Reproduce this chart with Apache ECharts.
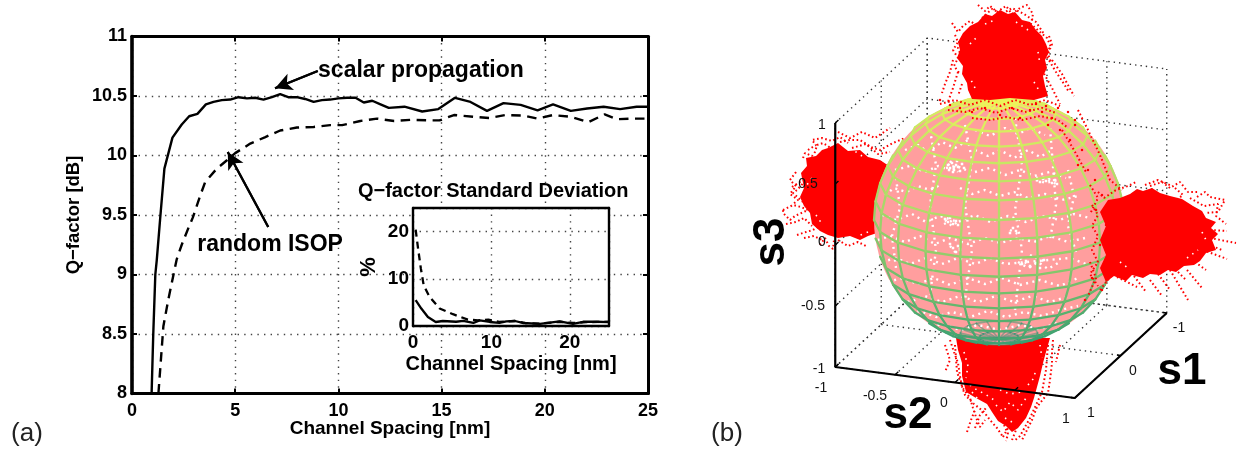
<!DOCTYPE html>
<html><head><meta charset="utf-8">
<style>html,body{margin:0;padding:0;background:#fff}#c{width:1239px;height:450px}</style>
<script src="https://cdn.jsdelivr.net/npm/echarts@6/dist/echarts.min.js"></script>
</head><body><div id="c"></div>
<script>
// ---------- panel (a) ----------
const scalarMain=[[0.95,8],[1.03,8.5],[1.13,9],[1.2,9.12],[1.36,9.46],[1.57,9.89],[1.96,10.15],[2.41,10.26],[2.77,10.33],[3.17,10.35],[3.58,10.43],[3.95,10.45],[4.35,10.465],[4.76,10.47],[5.16,10.49],[5.57,10.48],[5.97,10.485],[6.37,10.47],[6.78,10.49],[7.18,10.515],[7.57,10.49],[7.98,10.49],[8.39,10.475],[8.8,10.45],[9.2,10.465],[9.6,10.47],[10,10.48],[10.42,10.485],[10.83,10.485],[11.23,10.445],[11.64,10.46],[12.04,10.43],[12.44,10.4],[13.2,10.41],[14.06,10.37],[14.84,10.39],[15.65,10.485],[16.4,10.45],[17.2,10.375],[18,10.44],[18.83,10.425],[19.65,10.38],[20.4,10.43],[21.26,10.375],[22.05,10.395],[22.85,10.41],[23.65,10.39],[24.45,10.41],[25,10.41]];
const randomMain=[[1.28,8],[1.52,8.565],[1.76,8.79],[2,8.99],[2.17,9.13],[2.41,9.25],[2.73,9.39],[2.95,9.48],[3.3,9.66],[3.54,9.775],[4.11,9.89],[4.6,9.96],[5,10.02],[5.73,10.1],[6.46,10.155],[7.18,10.21],[7.99,10.235],[8.8,10.24],[9.6,10.255],[10.18,10.255],[11.06,10.29],[11.87,10.31],[12.7,10.29],[13.5,10.3],[14.4,10.295],[14.9,10.295],[15.6,10.34],[16.6,10.325],[17.3,10.315],[18.1,10.34],[19,10.335],[19.65,10.31],[20.4,10.34],[21.26,10.325],[22.1,10.28],[22.9,10.345],[23.5,10.305],[24.3,10.31],[25,10.31]];
const scalarStd=[[0.34,5.5],[1.06,3.7],[1.9,1.9],[2.9,0.85],[3.8,1.06],[5.5,0.9],[6.4,1.1],[7.7,0.64],[8.5,1.2],[9.8,0.85],[11,0.64],[11.9,1],[13,1.06],[14,0.64],[16.2,0.43],[18.7,1],[20.4,0.43],[21.7,0.9],[23.4,0.9],[24.9,0.8]];
const randomStd=[[0.34,20.4],[0.64,16.5],[1,12.2],[1.36,8.65],[2.1,6.2],[3.4,3.7],[5.1,2.5],[7,1.35],[8.3,1.2],[9.6,1.35],[11,0.85],[13,1.06],[14.3,0.64],[16.2,0.5],[18.7,0.9],[20.4,0.64],[22.1,0.8],[24.9,0.9]];
const arrowScalar=[[9.0,10.71],[6.93,10.565]];
const arrowRandom=[[6.6,9.4],[4.64,10.03]];
const notesMain=[[14,10.71,'scalar propagation'],[6.69,9.25,'random ISOP']];
const insetTitle=[[17.5,9.7,'Q\u2212factor Standard Deviation']];
const insetCover=[13.62,9.56,23.1,8.56];

// ---------- panel (b), read in picture units ----------
const coreLeft=[[822,150],[828,148],[838,143],[848,151],[860,150],[868,157],[880,160],[895,170],[895,225],[880,232],[868,236],[860,240],[850,236],[838,238],[828,235],[820,231],[812,224],[810,213],[804,206],[800,197],[804,188],[801,173],[807,166],[806,158],[816,156]];
const coreRight=[[1108,200],[1120,198],[1130,194],[1137,189],[1143,191],[1152,188],[1160,193],[1170,196],[1182,199],[1193,206],[1202,211],[1206,218],[1216,222],[1211,228],[1218,234],[1212,240],[1216,250],[1206,253],[1200,261],[1194,265],[1184,266],[1176,272],[1168,270],[1160,275],[1150,274],[1143,278],[1132,275],[1126,281],[1114,276],[1106,282],[1100,268],[1106,255],[1100,240],[1106,226],[1100,212]];
const coreTop=[[963,33],[970,26],[978,22],[985,14],[992,16],[1000,10],[1008,14],[1015,12],[1022,20],[1030,22],[1036,30],[1042,36],[1046,44],[1049,52],[1045,60],[1047,68],[1043,76],[1045,86],[1048,96],[1034,100],[1010,98],[990,100],[972,99],[968,90],[967,83],[962,74],[963,66],[957,58],[960,50],[958,42]];
const coreBottom=[[956,338],[1050,338],[1046,352],[1043,363],[1040,376],[1037,387],[1034,398],[1031,407],[1026,418],[1018,428],[1012,432],[1006,426],[998,421],[992,412],[987,404],[976,398],[966,392],[962,376],[962,363],[958,350]];
const strandsBehind=[
 [[803,158],[805,153],[812,156],[815,152],[817,145],[823,143],[828,146],[835,153]],
 [[808,150],[816,145],[812,140],[822,138],[832,141],[840,137],[848,143]],
 [[792,187],[800,182],[806,180],[797,190],[793,193],[803,202]],
 [[796,172],[790,180],[796,186],[790,194],[798,200],[792,205]],
 [[783,210],[793,205],[801,207],[808,210],[795,216],[790,220],[783,213],[783,210]],
 [[786,224],[796,222],[804,218],[812,226]],
 [[797,235],[806,232],[813,230],[820,226]],[[804,238],[814,236],[822,240]],
 [[820,245],[825,238],[829,246],[833,249],[834,240]],[[838,240],[848,246],[858,242],[866,246]],
 [[840,142],[850,140],[860,140],[871,147],[880,150],[893,143],[905,138]],
 [[838,132],[850,138],[862,132],[875,138],[890,128]],[[852,148],[866,144],[878,154],[890,152]],
 [[950,340],[954,352],[958,363],[960,376],[962,387],[970,398],[973,408],[977,420],[980,427],[985,420]],
 [[955,345],[957,372],[965,395],[974,404],[984,412],[990,420],[997,428],[1003,437]],
 [[967,432],[971,420],[975,410]],[[975,428],[980,415],[986,408]],
 [[1053,340],[1052,352],[1052,363],[1050,380],[1048,393],[1037,407],[1032,420],[1026,432],[1022,440]],
 [[1048,345],[1046,370],[1042,392],[1036,405],[1030,418],[1020,436],[1014,441]],
 [[1003,437],[1008,428]],[[1012,440],[1016,430]],
 [[945,345],[950,360],[945,372]],[[1060,345],[1056,362]],[[1004,425],[1008,434],[1006,441]]
];
const whiteOnClouds=[
 [[970,385],[977,390],[985,394],[994,400]],[[972,392],[982,404],[990,410]],[[996,405],[1003,412],[1010,402],[1018,410],[1026,398]],
 [[1028,385],[1034,378],[1036,368]],[[964,352],[968,366],[966,378]],[[1040,345],[1042,358]],[[1000,390],[1010,394],[1022,392]],
 [[1005,418],[1012,422]],[[1142,282],[1148,276]],[[1187,258],[1198,250]],[[1202,232],[1206,240]],[[1120,262],[1128,268]],
 [[812,178],[806,186]],[[816,215],[822,224]],[[850,148],[862,156]],[[868,232],[858,236]],
 [[970,44],[976,38]],[[1038,52],[1040,64]],[[1034,82],[1040,92]],[[975,88],[971,80]],[[985,24],[995,20]],[[1016,22],[1028,30]]
];
const strandsFront=[
 [[978,5],[985,11],[990,6],[997,12],[1006,6],[1012,14],[1020,8],[1027,5],[1033,14],[1031,24],[1040,32],[1047,38],[1051,47],[1045,52]],
 [[952,23],[958,32],[963,26],[970,21],[976,25],[970,32],[962,40],[958,48],[962,58]],
 [[982,18],[992,9],[1002,14],[1012,8],[1024,14],[1036,22],[1044,34]],
 [[955,35],[958,42],[953,50],[958,58],[954,66],[960,74]],
 [[1049,36],[1052,44],[1048,54],[1051,62]],
 [[953,60],[950,72],[945,84],[942,93]],[[958,72],[953,88],[948,102]],[[962,84],[958,96]],
 [[1047,57],[1056,72],[1064,84],[1069,92]],[[1042,70],[1052,88],[1060,104]],[[1036,84],[1042,98]],[[1052,60],[1062,74],[1074,96]],
 [[940,104],[955,100],[970,105],[985,100],[1000,106],[1015,100],[1030,105],[1045,100],[1060,106]],
 [[948,110],[965,112],[980,108],[996,113],[1010,108],[1025,112],[1042,108],[1056,113]],
 [[972,118],[990,120],[1006,117],[1022,120],[1040,116],[1058,120],[1068,128]],
 [[1175,188],[1183,195],[1176,200]],[[1197,197],[1205,192],[1210,197],[1225,200],[1218,212],[1205,213]],
 [[1150,186],[1162,182],[1170,188],[1180,182],[1188,192],[1198,192]],
 [[1190,198],[1204,206],[1218,204],[1216,216],[1226,224]],
 [[1210,230],[1227,231]],[[1210,238],[1236,243]],[[1203,250],[1227,259]],[[1212,246],[1222,250]],
 [[1187,270],[1202,288]],[[1150,280],[1162,296]],[[1170,270],[1188,300]],[[1117,277],[1137,287]],
 [[1195,262],[1206,270]],[[1178,272],[1186,280]],[[1134,276],[1146,292]],[[1158,274],[1170,290]],
 [[1100,290],[1112,275]],[[1145,185],[1158,180],[1172,186]],
 [[1092,205],[1098,215],[1092,226],[1098,236],[1092,250],[1098,262],[1090,274],[1098,286]],
 [[1098,192],[1104,198],[1116,190],[1128,186],[1136,182]],
 [[1090,185],[1098,198],[1090,214]],[[1090,262],[1096,278],[1088,296]],[[1078,110],[1088,130],[1100,155],[1110,180],[1122,190]],
 [[1062,130],[1074,150],[1086,172]]
];
const whiteStrands=[
 [[885,195],[894,188],[906,192],[918,186],[930,190],[942,184]],
 [[905,150],[918,145],[928,152],[942,142],[955,148],[968,140]],
 [[895,170],[910,166],[925,172],[938,166],[950,170]],
 [[948,164],[955,170],[962,163]],[[946,168],[956,166],[966,170]],[[950,161],[958,172]],
 [[975,130],[990,136],[1005,128],[1018,134],[1030,128],[1045,135]],
 [[975,150],[988,156],[1000,150],[1014,158],[1028,150],[1040,157],[1052,150]],
 [[975,172],[990,168],[1005,175],[1020,170],[1034,176],[1050,172],[1066,178]],
 [[1036,180],[1046,183],[1058,180]],[[1036,178],[1046,178],[1056,184]],
 [[960,188],[972,194],[985,190],[1000,196],[1014,192],[1028,198],[1045,194],[1062,200],[1078,196]],
 [[882,215],[896,220],[912,214],[926,222],[940,216],[958,222],[975,215],[990,222],[1008,216],[1026,222],[1042,216],[1060,220],[1074,214],[1090,218]],
 [[945,220],[952,226],[960,220]],[[944,224],[954,220]],[[1010,230],[1018,234]],
 [[878,240],[890,236],[905,242],[920,236],[935,244],[950,238],[968,244],[985,238],[1000,243],[1018,238],[1034,242],[1050,236],[1068,242],[1085,238]],
 [[950,246],[955,252],[961,248]],[[1018,262],[1028,268],[1038,262],[1048,269],[1058,263]],[[1020,258],[1034,270]],[[1030,255],[1046,262]],
 [[882,262],[896,258],[910,264],[926,258],[942,264],[958,258],[975,264],[990,258],[1005,264],[1070,258],[1086,264]],
 [[888,282],[902,278],[918,284],[934,278],[950,285],[968,278],[985,284],[1002,278],[1020,285],[1040,280],[1060,286],[1078,278]],
 [[895,298],[910,302],[925,296],[942,302],[960,296],[978,302],[996,296],[1014,302],[1032,296],[1050,302],[1070,296]],
 [[905,315],[920,311],[936,317],[952,312],[970,317],[988,311],[1006,317],[1024,312],[1042,316],[1060,310],[1078,306]],
 [[925,328],[942,324],[960,330],[978,325],[1000,330],[1020,325],[1040,329],[1060,322]],
 [[896,178],[900,208],[892,236],[896,268]],[[1068,170],[1074,196],[1068,226],[1076,252]],
 [[930,130],[936,165],[930,205],[936,250],[930,295]],[[1050,128],[1056,205],[1050,240]],
 [[965,125],[972,160],[965,205],[972,250],[965,300]],[[1015,118],[1022,165],[1015,210],[1022,250],[1015,310]]
];
const speckWhite=[[948,165],[950,168],[952,163],[954,170],[956,165],[958,167],[960,171],[962,164],[964,168],[953,172],[949,170],[957,161],[1037,180],[1040,182],[1043,179],[1046,181],[1049,178],[1052,183],[1055,180],[1057,184],[945,219],[948,222],[950,218],[953,224],[956,221],[958,225],[1013,228],[1016,231],[1010,233],[950,244],[953,248],[956,252],[958,246],[960,250],[1022,264],[1026,261],[1030,266],[1036,263],[1040,268],[1044,260]];
const speckRed=[[1070,140],[1075,125],[1060,130],[1068,112],[1052,118],[1058,108],[1048,125],[1042,112],[1030,110],[1020,118],[1012,108],[1000,115],[985,108],[972,112],[960,108],[1082,150],[1088,170],[1078,165],[1095,180],[1102,195],[1096,210],[1106,225],[1100,245],[1108,262],[1092,278],[1102,290],[1085,300],[1075,120],[940,100],[950,105],[1036,104],[1046,106]];
const axisTicks=[-1,-0.5,0,0.5,1];
const axisTicksS1=[-1,0,1];
const labelsS3=[[822,125,'1'],[808,184,'0.5'],[822,242,'0'],[813,306,'-0.5'],[819,369,'-1']];
const labelsS2=[[821,388,'-1'],[875,396,'-0.5'],[944,403,'0'],[1066,419,'1']];
const labelsS1=[[1091,413,'1'],[1133,371,'0'],[1179,328,'-1']];
const axisTitles=[[1182,372,'s1'],[908,416,'s2']];
const axisTitleS3=[[772,242,'s3']];
const panelTags=[[27,434,'(a)'],[727,434,'(b)']];

// ---------- projections of the 3-D box and sphere into picture units ----------
const P=(s1,s2,s3)=>[1001-46*s1+119.75*s2,218+42.5*s1+15.5*s2-122*s3];
const sphereC=[999,220],sphereR=125,el=18*Math.PI/180;
const rad=d=>d*Math.PI/180;
function sph(lat,lon){const a=rad(lat),o=rad(lon);return {
 p:[sphereC[0]+sphereR*Math.cos(a)*Math.sin(o),sphereC[1]-sphereR*(Math.sin(a)*Math.cos(el)-Math.cos(a)*Math.cos(o)*Math.sin(el))],
 z:Math.sin(a)*Math.sin(el)+Math.cos(a)*Math.cos(o)*Math.cos(el)};}
function meshColor(lat){
 const t=(lat+90)/180;
 const stops=[[0,[34,142,118]],[0.3,[86,176,110]],[0.6,[176,220,104]],[1,[240,246,90]]];
 for(let i=1;i<stops.length;i++){if(t<=stops[i][0]){const a=stops[i-1],b=stops[i],f=(t-a[0])/(b[0]-a[0]);
  return 'rgb('+a[1].map((v,k)=>Math.round(v+(b[1][k]-v)*f)).join(',')+')';}}
 return 'rgb(240,246,90)';
}
const meshFront=[],meshBack=[];
function addSeg(la1,lo1,la2,lo2){
 const A=sph(la1,lo1),B=sph(la2,lo2),m=(la1+la2)/2,seg={a:A.p,b:B.p,c:meshColor(m)};
 if((A.z+B.z)/2>=0)meshFront.push(seg);else if(m<=-72||m>=63)meshBack.push(seg);
}
for(let la=-90;la<=90;la+=9)for(let lo=-180;lo<180;lo+=18){
 if(Math.abs(la)<90)addSeg(la,lo,la,lo+18);
 if(la<90)addSeg(la,lo,la+9,lo);
}
const sphereOutline=[];for(let t=0;t<360;t+=4)sphereOutline.push([sphereC[0]+sphereR*Math.cos(rad(t)),sphereC[1]+sphereR*Math.sin(rad(t))]);

const wallLines=[];
axisTicks.forEach(v=>{ wallLines.push([P(1,-1,v),P(-1,-1,v),P(-1,1,v)]); wallLines.push([P(-1,v,-1),P(-1,v,1)]); wallLines.push([P(-1,v,-1),P(1,v,-1)]);});
axisTicksS1.forEach(v=>{ wallLines.push([P(v,-1,-1),P(v,-1,1)]); wallLines.push([P(v,-1,-1),P(v,1,-1)]);});
const boxAxes=[[P(1,-1,1),P(1,-1,-1),P(1,1,-1),P(-1,1,-1)]];
const tickMarks=[];
axisTicks.forEach(v=>{const a=P(1,-1,v),b=P(0.93,-1,v);tickMarks.push([a,b]);const c=P(1,v,-1),d=P(0.93,v,-1);tickMarks.push([c,d]);});
axisTicksS1.forEach(v=>{const a=P(v,1,-1),b=P(v,0.97,-1);tickMarks.push([a,b]);});

// ---------- option helpers ----------
const FONT='"Liberation Sans",Arial,sans-serif', BOLD={fontFamily:FONT,fontWeight:'bold',color:'#000'};
const dotted={show:true,lineStyle:{color:'#444',width:1.4,type:[1.4,5.2]}};
const PANEL={xAxisIndex:4,yAxisIndex:4};
function valueAxis(o){return Object.assign({type:'value',splitLine:{show:false},axisLine:{show:true,onZero:false,lineStyle:{color:'#000',width:3}},axisTick:{show:true,inside:true,length:5,lineStyle:{color:'#000',width:2}},axisLabel:{show:false}},o);}
function polyline(lines,z,style){return lines.map(l=>({type:'line',...PANEL,data:l,symbol:'none',silent:true,z,clip:false,animation:false,lineStyle:style}));}
function polygons(list,z,fill){return {type:'custom',...PANEL,z,clip:false,silent:true,animation:false,data:list.map((_,i)=>[i,0]),
 renderItem:(p,api)=>({type:'polygon',shape:{points:list[p.dataIndex].map(q=>api.coord(q))},style:{fill}})};}
function segments(list,z,width,opacity){return {type:'custom',...PANEL,z,clip:false,silent:true,animation:false,data:list.map((_,i)=>[i,0]),
 renderItem:(p,api)=>{const s=list[p.dataIndex],a=api.coord(s.a),b=api.coord(s.b);
  return {type:'line',shape:{x1:a[0],y1:a[1],x2:b[0],y2:b[1]},style:{stroke:s.c,lineWidth:width,opacity,lineCap:'round'}};}};}
function texts(list,z,label,axes){return {type:'scatter',...(axes||PANEL),z,silent:true,animation:false,symbolSize:0,clip:false,itemStyle:{opacity:1},
 data:list.map(t=>({value:[t[0],t[1]],name:t[2]})),label:Object.assign({show:true,position:'inside',formatter:'{b}',align:'center',verticalAlign:'middle',opacity:1},label)};}
function specks(list,z,color,size){return {type:'scatter',...PANEL,z,silent:true,animation:false,clip:false,symbol:'rect',symbolSize:size,data:list,itemStyle:{color,opacity:1}};}
const dotStyle={color:'#f00',width:2,type:[1.6,2.6]};
const whiteDot={color:'#fff',width:2.4,type:[2,4.4]};

const option={
 animation:false,backgroundColor:'#fff',
 grid:[
  {left:132,top:36.5,width:516,height:357},
  {left:413,top:208,width:196,height:118},
  {left:0,top:0,right:0,bottom:0}
 ],
 xAxis:[
  valueAxis({gridIndex:0,min:0,max:25,interval:5,position:'bottom',splitLine:dotted,axisLabel:{show:true,margin:9,fontSize:18,...BOLD},name:'Channel Spacing [nm]',nameLocation:'middle',nameGap:26,nameMoveOverlap:false,nameTextStyle:{fontSize:19,...BOLD}}),
  valueAxis({gridIndex:0,min:0,max:25,interval:5,position:'top'}),
  valueAxis({gridIndex:1,min:0,max:25,interval:10,z:3,position:'bottom',splitLine:dotted,axisLine:{show:true,onZero:false,lineStyle:{color:'#000',width:2.4}},axisTick:{show:false},axisLabel:{show:true,margin:7,fontSize:19,showMaxLabel:false,...BOLD},name:'Channel Spacing [nm]',nameLocation:'middle',nameGap:28,nameTextStyle:{fontSize:20,...BOLD}}),
  valueAxis({gridIndex:1,min:0,max:25,interval:10,z:3,position:'top',axisLine:{show:true,onZero:false,lineStyle:{color:'#000',width:2.4}},axisTick:{show:false}}),
  {gridIndex:2,type:'value',min:0,max:1239,show:false}
 ],
 yAxis:[
  valueAxis({gridIndex:0,min:8,max:11,interval:0.5,position:'left',splitLine:dotted,axisLine:{show:true,onZero:false,lineStyle:{color:'#000',width:3.6}},axisLabel:{show:true,margin:5,fontSize:18,...BOLD},name:'Q\u2212factor [dB]',nameLocation:'middle',nameGap:49,nameTextStyle:{fontSize:18.5,...BOLD}}),
  valueAxis({gridIndex:0,min:8,max:11,interval:0.5,position:'right'}),
  valueAxis({gridIndex:1,min:0,max:25,interval:10,z:3,position:'left',splitLine:dotted,axisLine:{show:true,onZero:false,lineStyle:{color:'#000',width:2.4}},axisTick:{show:false},axisLabel:{show:true,margin:4,fontSize:19,showMaxLabel:false,...BOLD},name:'%',nameLocation:'middle',nameGap:33,nameTextStyle:{fontSize:22,...BOLD}}),
  valueAxis({gridIndex:1,min:0,max:25,interval:10,z:3,position:'right',axisLine:{show:true,onZero:false,lineStyle:{color:'#000',width:2.4}},axisTick:{show:false}}),
  {gridIndex:2,type:'value',min:0,max:450,inverse:true,show:false}
 ],
 series:[
  // panel (a)
  {type:'custom',xAxisIndex:0,yAxisIndex:0,z:1,silent:true,clip:false,animation:false,data:[[insetCover[0],insetCover[1]]],
   renderItem:(p,api)=>{const a=api.coord([insetCover[0],insetCover[1]]),b=api.coord([insetCover[2],insetCover[3]]);
    return {type:'rect',shape:{x:a[0],y:a[1],width:b[0]-a[0],height:b[1]-a[1]},style:{fill:'#fff'}};}},
  {type:'line',xAxisIndex:0,yAxisIndex:0,data:scalarMain,symbol:'none',z:4,lineStyle:{color:'#000',width:2.4}},
  {type:'line',xAxisIndex:0,yAxisIndex:0,data:randomMain,symbol:'none',z:4,lineStyle:{color:'#000',width:2.4,type:[9.5,6.5]}},
  {type:'line',xAxisIndex:0,yAxisIndex:0,data:arrowScalar,z:5,symbol:'none',lineStyle:{color:'#000',width:2.2},
   markLine:{silent:true,animation:false,symbol:['none','arrow'],symbolSize:[13,17],label:{show:false},lineStyle:{color:'#000',width:2.2,type:'solid'},data:[[{coord:arrowScalar[0]},{coord:arrowScalar[1]}]]}},
  {type:'line',xAxisIndex:0,yAxisIndex:0,data:arrowRandom,z:5,symbol:'none',lineStyle:{color:'#000',width:2.2},
   markLine:{silent:true,animation:false,symbol:['none','arrow'],symbolSize:[13,17],label:{show:false},lineStyle:{color:'#000',width:2.2,type:'solid'},data:[[{coord:arrowRandom[0]},{coord:arrowRandom[1]}]]}},
  texts(notesMain,6,{fontSize:23,...BOLD},{xAxisIndex:0,yAxisIndex:0}),
  texts(insetTitle,6,{fontSize:20,...BOLD},{xAxisIndex:0,yAxisIndex:0}),
  {type:'line',xAxisIndex:2,yAxisIndex:2,data:scalarStd,symbol:'none',z:5,lineStyle:{color:'#000',width:2.3}},
  {type:'line',xAxisIndex:2,yAxisIndex:2,data:randomStd,symbol:'none',z:5,lineStyle:{color:'#000',width:2.3,type:[7,5]}},
  // panel (b)
  ...polyline(wallLines,1,{color:'#333',width:1.4,type:[1.4,4]}),
  ...polyline(strandsBehind,2,dotStyle),
  polygons([coreLeft,coreBottom],3,'#f00'),
  polygons([sphereOutline],4,'#ff9e9e'),
  segments(meshBack,5,1.6,0.5),
  ...polyline(whiteStrands,6,whiteDot),
  specks(speckWhite,6,'#fff',2.5),
  segments(meshFront,7,2.3,1),
  specks(speckRed,8,'#f00',2.2),
  polygons([coreRight,coreTop],9,'#f00'),
  ...polyline(strandsFront,9,dotStyle),
  ...polyline(whiteOnClouds,9,{color:'#fff',width:1.6,type:[1.5,5]}),
  ...polyline(boxAxes,10,{color:'#000',width:2.2}),
  ...polyline(tickMarks,10,{color:'#000',width:1.4}),
  texts(labelsS3,11,{fontSize:14,fontFamily:FONT,color:'#111'}),
  texts(labelsS2,11,{fontSize:14,fontFamily:FONT,color:'#111'}),
  texts(labelsS1,11,{fontSize:14,fontFamily:FONT,color:'#111'}),
  texts(axisTitles,11,{fontSize:44,fontFamily:FONT,fontWeight:'bold',color:'#000'}),
  texts(axisTitleS3,11,{fontSize:44,fontFamily:FONT,fontWeight:'bold',color:'#000',rotate:90}),
  texts(panelTags,11,{fontSize:26,fontFamily:FONT,color:'#222'})
 ]
};
echarts.init(document.getElementById('c'),null,{renderer:'canvas'}).setOption(option);
</script></body></html>
